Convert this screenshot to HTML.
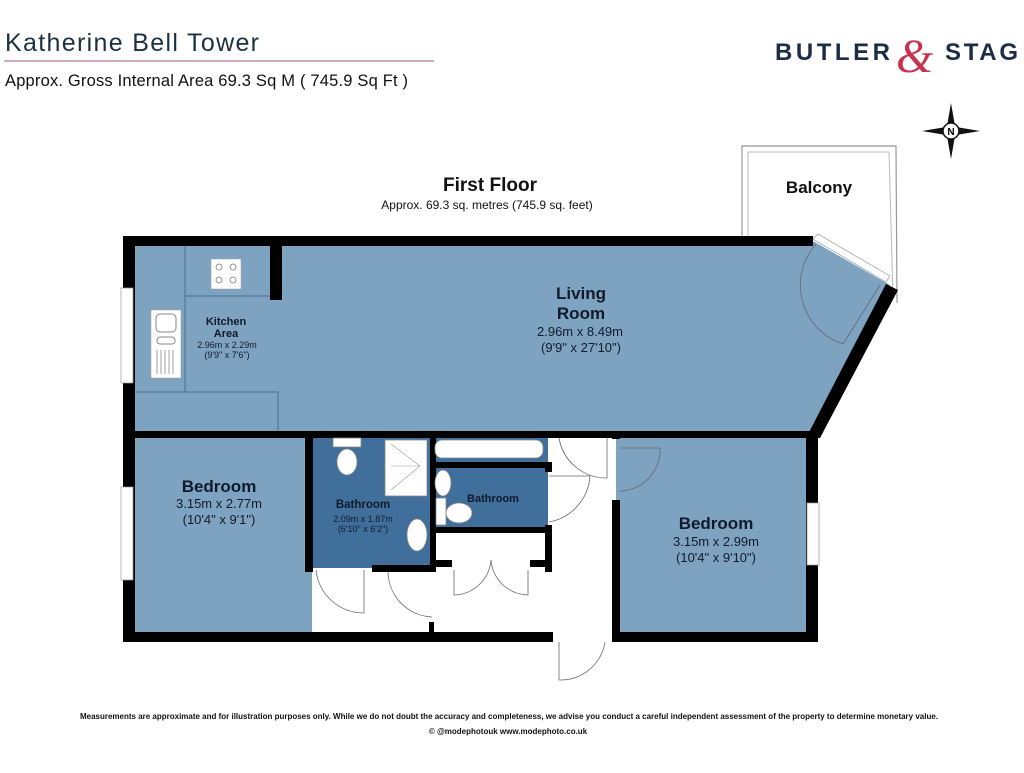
<!DOCTYPE html>
<html><head><meta charset="utf-8"><style>
body{margin:0;background:#fff;width:1024px;height:768px;overflow:hidden;font-family:"Liberation Sans",sans-serif}
</style></head><body>
<svg width="1024" height="768" viewBox="0 0 1024 768" xmlns="http://www.w3.org/2000/svg" font-family="Liberation Sans, sans-serif">
<rect width="1024" height="768" fill="#fff"/>
<text x="5" y="51" font-size="25" fill="#1c3040" textLength="254">Katherine Bell Tower</text>
<line x1="4" y1="61" x2="434" y2="61" stroke="#b07a98" stroke-width="1.2"/>
<text x="5" y="86" font-size="16.5" fill="#111" textLength="403">Approx. Gross Internal  Area 69.3 Sq M ( 745.9 Sq Ft )</text>
<text x="775" y="60" font-size="24" font-weight="bold" fill="#1c2d48" textLength="115">BUTLER</text>
<text x="896" y="72" font-size="48" font-family="Liberation Serif,serif" font-style="italic" fill="#c8324e">&amp;</text>
<text x="945" y="60" font-size="24" font-weight="bold" fill="#1c2d48" textLength="73">STAG</text>
<g transform="translate(951,131)">
<polygon points="0,-28 4,-5 0,0 -4,-5" fill="#111"/><polygon points="0,28 4,5 0,0 -4,5" fill="#111"/>
<polygon points="-29,0 -5,-4 0,0 -5,4" fill="#111"/><polygon points="29,0 5,-4 0,0 5,4" fill="#111"/>
<circle r="8" fill="#fff" stroke="#111" stroke-width="1.5"/><text x="0" y="4" font-size="10" font-weight="bold" text-anchor="middle">N</text></g>

<text x="490" y="191" font-size="19" font-weight="bold" text-anchor="middle" fill="#111">First Floor</text>
<text x="487" y="209" font-size="12" text-anchor="middle" fill="#111">Approx. 69.3 sq. metres (745.9 sq. feet)</text>

<polyline points="742,236 742,146 896,146 897,303" fill="none" stroke="#999" stroke-width="1.2"/>
<polyline points="748,236 748,152 889,152 893,298" fill="none" stroke="#bbb" stroke-width="1"/>
<text x="819" y="193" font-size="17" font-weight="bold" text-anchor="middle" fill="#111">Balcony</text>

<polygon points="130,241 813,241 890,285 814,436 130,436" fill="#7ea3c1"/>
<rect x="130" y="436" width="182" height="200" fill="#7ea3c1"/>
<rect x="616" y="436" width="195" height="200" fill="#7ea3c1"/>
<rect x="310" y="436" width="120" height="132" fill="#3f6f9a"/>
<rect x="433" y="436" width="115" height="28" fill="#3f6f9a"/>
<rect x="433" y="465" width="115" height="65" fill="#3f6f9a"/>
<rect x="313" y="568" width="299" height="68" fill="#fff"/>
<rect x="433" y="531" width="115" height="40" fill="#fff"/>
<rect x="548" y="436" width="64" height="200" fill="#fff"/>

<g stroke="#4a6d8a" stroke-width="1" fill="none">
<polyline points="185,246 185,296 270,296"/>
<polyline points="135,392 278,392 278,431"/>
<line x1="185" y1="296" x2="185" y2="392"/>
</g>
<rect x="211" y="259" width="30" height="30" fill="#fff" stroke="#999" stroke-width=".5"/>
<g fill="none" stroke="#777" stroke-width=".8"><circle cx="219" cy="267" r="3"/><circle cx="233" cy="267" r="3"/><circle cx="219" cy="280" r="3"/><circle cx="233" cy="280" r="3"/></g>
<rect x="151" y="310" width="30" height="68" fill="#fff" stroke="#999" stroke-width=".5"/>
<rect x="156" y="314" width="20" height="18" rx="4" fill="none" stroke="#888"/>
<rect x="157" y="337" width="18" height="7" rx="3" fill="none" stroke="#888"/>
<g stroke="#888" stroke-width=".8"><line x1="157" y1="350" x2="157" y2="374"/><line x1="161" y1="350" x2="161" y2="374"/><line x1="165" y1="350" x2="165" y2="374"/><line x1="169" y1="350" x2="169" y2="374"/><line x1="173" y1="350" x2="173" y2="374"/></g>

<g fill="#000">
<rect x="123" y="236" width="690" height="10"/>
<rect x="123" y="236" width="12" height="406"/>
<rect x="270" y="246" width="12" height="54"/>
<rect x="123" y="431" width="695" height="7"/>
<polygon points="886,284 898,290 820,438 806,438"/>
<rect x="123" y="632" width="430" height="10"/>
<rect x="612" y="632" width="206" height="10"/>
<rect x="806" y="432" width="12" height="210"/>
<rect x="612" y="500" width="8" height="142"/>
<rect x="612" y="431" width="8" height="8"/>
<rect x="305" y="438" width="8" height="134"/>
<rect x="372" y="565" width="60" height="7"/>
<rect x="430" y="438" width="6" height="134"/>
<rect x="430" y="462" width="122" height="6"/>
<rect x="430" y="527" width="122" height="6"/>
<rect x="545" y="462" width="7" height="10"/>
<rect x="545" y="525" width="7" height="47"/>
<rect x="436" y="560" width="16" height="7"/>
<rect x="530" y="560" width="22" height="7"/>
<rect x="429" y="622" width="5" height="12"/>
</g>
<g fill="#fff" stroke="#999" stroke-width=".7">
<rect x="121" y="288" width="12" height="95"/><rect x="121" y="487" width="12" height="93"/><rect x="807" y="503" width="12" height="62"/>
<polygon points="813,239 818,234 890,276 886,282"/>
</g>
<g fill="none" stroke="#667" stroke-width=".8">
<path d="M816,244 A62,62 0 0 0 843,344 L880,285"/>
<path d="M619,448 L660,448 A41,41 0 0 1 619,491"/>
<path d="M559,438 A48,48 0 0 0 607,478 L607,438"/>
<path d="M549,522 A50,50 0 0 0 590,476 L549,476"/>
<path d="M316,570 A48,48 0 0 0 364,613 L364,570"/>
<path d="M388,572 A46,46 0 0 0 432,617"/>
<path d="M454,570 L454,595 A38,38 0 0 0 491,560 A38,38 0 0 0 528,595 L528,570"/>
<path d="M559,642 L559,680 A45,45 0 0 0 605,642"/>
</g>
<g fill="#fff" stroke="#888" stroke-width=".8">
<rect x="333" y="438" width="28" height="9"/>
<ellipse cx="347" cy="462" rx="10" ry="13"/>
<rect x="385" y="440" width="42" height="56"/>
<rect x="435" y="440" width="108" height="18" rx="7"/>
<ellipse cx="443" cy="483" rx="8" ry="13"/>
<rect x="436" y="498" width="10" height="27"/>
<ellipse cx="459" cy="513" rx="13" ry="10"/>
<ellipse cx="417" cy="535" rx="10" ry="16"/>
</g>
<g stroke="#999" stroke-width=".6"><line x1="391" y1="444" x2="420" y2="466"/><line x1="420" y1="466" x2="391" y2="490"/><line x1="391" y1="466" x2="420" y2="466"/></g>

<g fill="#111a2c" text-anchor="middle">
<text x="226" y="325" font-size="11" font-weight="bold">Kitchen</text>
<text x="226" y="337" font-size="11" font-weight="bold">Area</text>
<text x="227" y="348" font-size="9">2.96m x 2.29m</text>
<text x="227" y="358" font-size="9">(9'9" x 7'6")</text>
<text x="581" y="299" font-size="17" font-weight="bold">Living</text>
<text x="581" y="319" font-size="17" font-weight="bold">Room</text>
<text x="580" y="336" font-size="13">2.96m x 8.49m</text>
<text x="581" y="352" font-size="13">(9'9" x 27'10")</text>
<text x="219" y="492" font-size="17" font-weight="bold">Bedroom</text>
<text x="219" y="508" font-size="13">3.15m x 2.77m</text>
<text x="219" y="524" font-size="13">(10'4" x 9'1")</text>
<text x="363" y="508" font-size="11.5" font-weight="bold">Bathroom</text>
<text x="363" y="522" font-size="9">2.09m x 1.87m</text>
<text x="363" y="532" font-size="9">(6'10" x 6'2")</text>
<text x="493" y="502" font-size="11" font-weight="bold">Bathroom</text>
<text x="716" y="529" font-size="17" font-weight="bold">Bedroom</text>
<text x="716" y="546" font-size="13">3.15m x 2.99m</text>
<text x="716" y="562" font-size="13">(10'4" x 9'10")</text>
</g>
<text x="80" y="719" font-size="8" font-weight="bold" fill="#111" textLength="858">Measurements are approximate and for illustration purposes only.  While we do not doubt the accuracy and completeness, we advise you conduct a careful independent assessment of the property to determine monetary value.</text>
<text x="508" y="734" font-size="8" font-weight="bold" text-anchor="middle" fill="#111">© @modephotouk www.modephoto.co.uk</text>
</svg>
</body></html>
